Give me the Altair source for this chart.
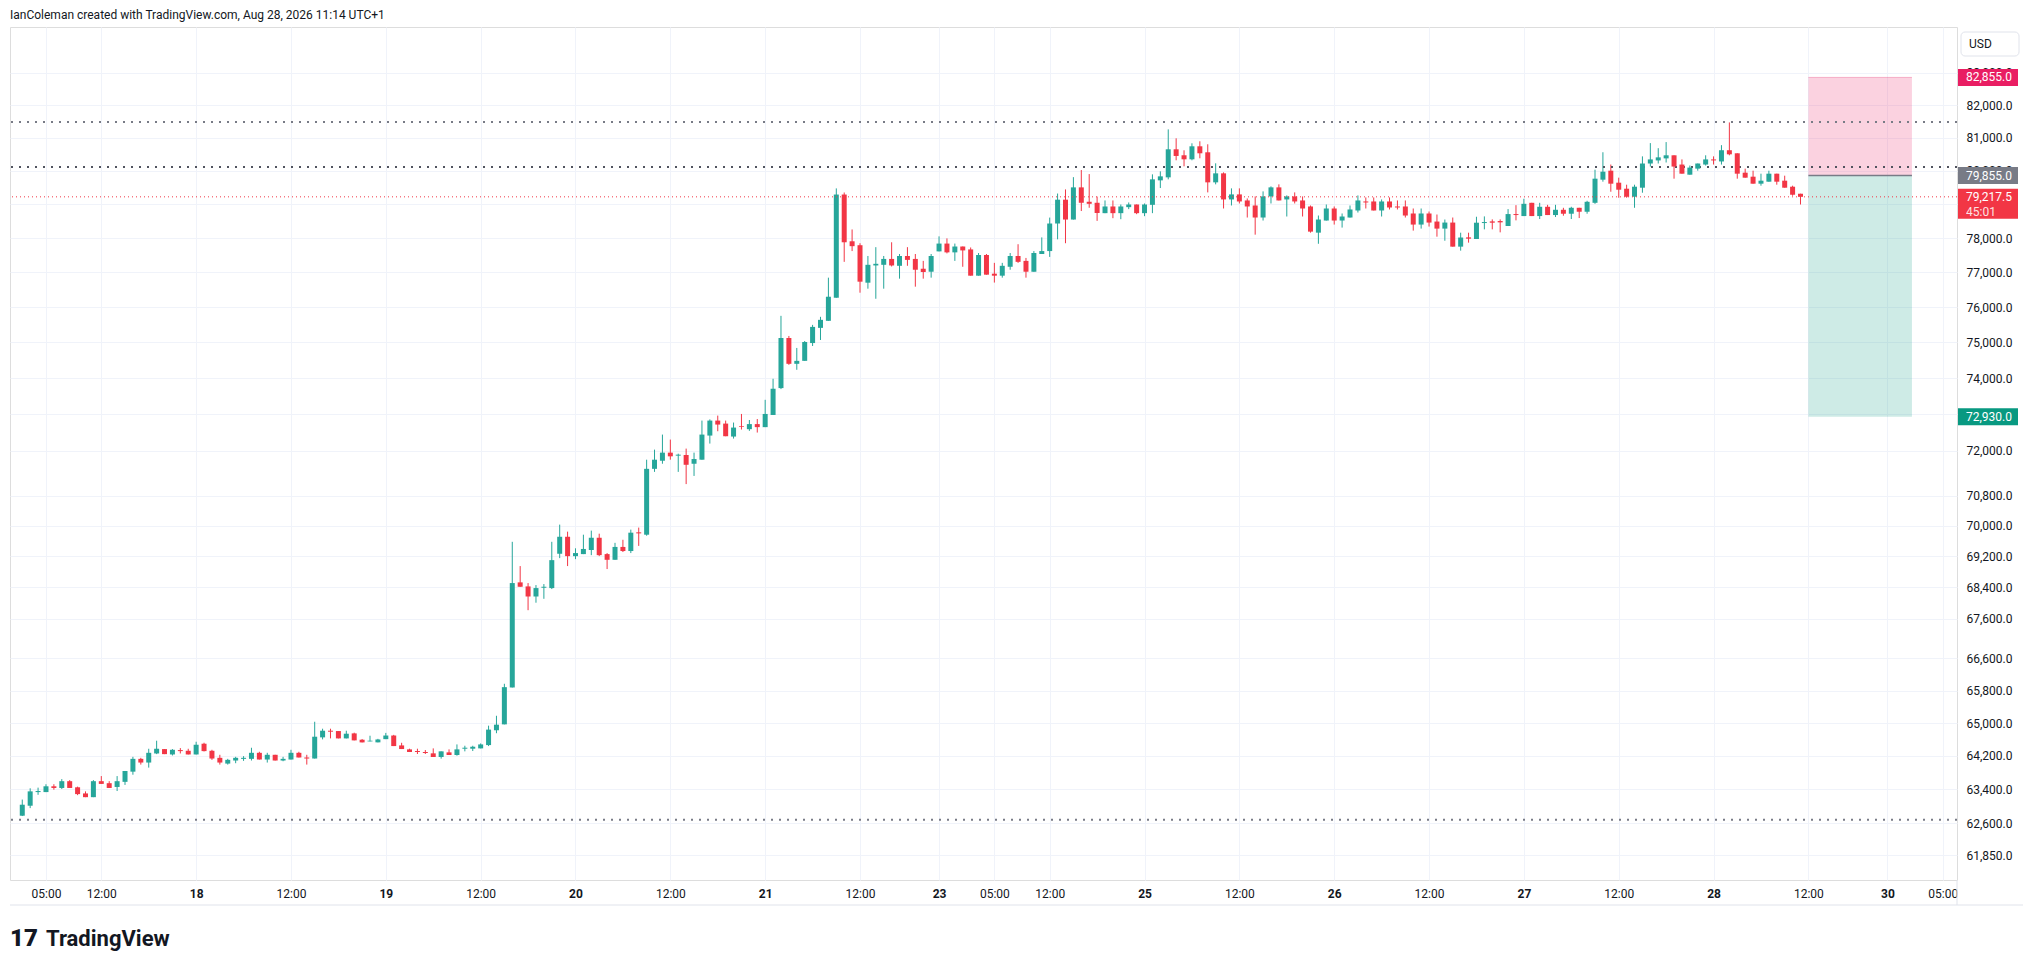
import json
import numpy as np
import pandas as pd
import altair as alt

# ---------------- data (hourly candles) ----------------
opens = [
    62775, 63011, 63335, 63335, 63473, 63433, 63595, 63449, 63303, 63214,
    63595, 63547, 63457, 63579, 63823, 64131, 64042, 64261, 64367, 64237,
    64342, 64326, 64237, 64497, 64326, 64156, 64017, 64091, 64131, 64131,
    64277, 64115, 64229, 64091, 64115, 64277, 64164, 64139, 64651, 64813,
    64805, 64626, 64748, 64594, 64553, 64530, 64608, 64696, 64456, 64360,
    64320, 64296, 64264, 64176, 64288, 64224, 64376, 64376, 64384, 64464,
    64824, 64968, 65875, 68530, 68426, 68167, 68392, 68383, 69271, 69715,
    69209, 69262, 69369, 69689, 69262, 69114, 69449, 69342, 69831, 69769,
    71518, 71736, 71955, 71873, 71891, 71655, 71764, 72418, 72827, 72745,
    72391, 72676, 72592, 72731, 72648, 72981, 73722, 75124, 74398, 74481,
    74981, 75410, 75610, 76269, 79286, 77905, 77790, 76702, 77200, 77219,
    77390, 77190, 77476, 77390, 77105, 77019, 77610, 77838, 77581, 77752,
    77667, 76904, 77505, 76962, 76904, 77162, 77476, 77333, 77019, 77533,
    77619, 78427, 79133, 78544, 79500, 79071, 79041, 78733, 78931, 78733,
    78911, 78990, 78733, 78980, 79710, 79800, 80646, 80465, 80343, 80737,
    80555, 79650, 79920, 79140, 79290, 79110, 78960, 78604, 79230, 79500,
    79140, 79230, 79110, 78931, 78158, 78515, 78871, 78515, 78604, 78812,
    79080, 79080, 78812, 79080, 78931, 78931, 78723, 78396, 78723, 78485,
    78277, 78455, 77748, 78020, 77971, 78441, 78490, 78500, 78353, 78706,
    78647, 79040, 78647, 78922, 78677, 78833, 78716, 78892, 78775, 79040,
    79730, 80000, 79640, 79460, 79220, 79490, 80216, 80309, 80371, 80464,
    80185, 79880, 80062, 80185, 80340, 80278, 80618, 80525, 79940, 79820,
    79610, 79670, 79910, 79700, 79520, 79310,
]
highs = [
    63157, 63425, 63441, 63522, 63522, 63644, 63620, 63465, 63352, 63620,
    63717, 63595, 63717, 63839, 64180, 64156, 64375, 64570, 64367, 64367,
    64391, 64375, 64545, 64521, 64350, 64229, 64131, 64180, 64196, 64399,
    64302, 64277, 64229, 64180, 64350, 64302, 64229, 65032, 64862, 64862,
    64805, 64813, 64765, 64610, 64691, 64615, 64760, 64712, 64520, 64376,
    64376, 64344, 64384, 64312, 64360, 64480, 64448, 64448, 64504, 64936,
    65178, 65967, 69583, 68951, 68512, 68460, 68486, 69583, 70034, 69849,
    69413, 69769, 69876, 69796, 69289, 69556, 69636, 69902, 69956, 71764,
    72036, 72445, 72309, 71927, 72064, 71955, 72827, 72860, 72964, 72827,
    72773, 73009, 72843, 72870, 73398, 73981, 75752, 75181, 74843, 75038,
    75495, 75724, 76847, 79469, 79347, 78252, 77848, 77476, 77733, 77476,
    77876, 77533, 77733, 77533, 77333, 77533, 78049, 77990, 77838, 77752,
    77724, 77562, 77533, 77276, 77276, 77562, 77819, 77419, 77619, 78019,
    78602, 79316, 79439, 79806, 80020, 79898, 79225, 79110, 79110, 78990,
    79050, 78990, 79020, 79890, 79980, 81252, 80980, 80616, 80828, 80889,
    80798, 80222, 79950, 79470, 79470, 79170, 79230, 79380, 79530, 79590,
    79260, 79350, 79230, 78960, 78663, 78990, 78931, 78723, 78960, 79260,
    79200, 79200, 79140, 79200, 79110, 79110, 78871, 78871, 78782, 78693,
    78545, 78604, 78157, 78157, 78627, 78637, 78549, 78549, 78853, 78970,
    79160, 79040, 79040, 78980, 78980, 78892, 78922, 78892, 79100, 80030,
    80556, 80185, 79790, 79580, 79580, 80432, 80834, 80680, 80865, 80464,
    80340, 80155, 80216, 80464, 80432, 80772, 81465, 80525, 80062, 80000,
    79910, 80000, 79910, 79850, 79550, 79310,
]
lows = [
    62767, 62954, 63270, 63335, 63392, 63408, 63433, 63262, 63214, 63214,
    63530, 63433, 63360, 63506, 63750, 63993, 63920, 64245, 64245, 64212,
    64261, 64237, 64237, 64310, 64107, 63993, 63993, 64026, 64082, 64091,
    64115, 64042, 64091, 64074, 64115, 64164, 63993, 64139, 64602, 64626,
    64626, 64626, 64578, 64529, 64553, 64530, 64608, 64440, 64368, 64296,
    64248, 64248, 64176, 64136, 64224, 64208, 64312, 64320, 64384, 64440,
    64752, 64968, 65875, 68417, 67817, 68008, 68108, 68358, 69157, 68951,
    69131, 69262, 69235, 69209, 68874, 69114, 69316, 69289, 69476, 69742,
    71436, 71655, 71764, 71436, 71109, 71327, 71764, 72200, 72536, 72400,
    72336, 72583, 72546, 72500, 72648, 72981, 73694, 74370, 74231, 74481,
    74898, 75067, 75610, 76269, 77305, 77619, 76414, 76529, 76240, 76529,
    77171, 76818, 77190, 76587, 76818, 76847, 77610, 77552, 77333, 77162,
    76904, 76904, 76933, 76705, 76847, 77076, 77276, 76847, 77019, 77533,
    77448, 77962, 77848, 78544, 78796, 78893, 78505, 78733, 78584, 78554,
    78852, 78703, 78644, 78733, 79480, 79740, 80313, 80131, 80313, 80374,
    79350, 79590, 78871, 78960, 79020, 78604, 78099, 78515, 79020, 79110,
    78634, 79020, 78634, 78158, 77832, 78515, 78396, 78307, 78604, 78752,
    78871, 78812, 78634, 78842, 78842, 78604, 78218, 78277, 78337, 78040,
    77921, 77748, 77631, 77865, 77971, 78255, 78255, 78167, 78353, 78520,
    78647, 78647, 78559, 78677, 78618, 78657, 78559, 78588, 78716, 79010,
    79670, 79370, 79190, 79190, 78892, 79340, 80124, 80216, 80247, 79760,
    79910, 79880, 80000, 80155, 80185, 80185, 80464, 79760, 79790, 79610,
    79550, 79670, 79580, 79490, 79250, 78990,
]
closes = [
    63035, 63352, 63360, 63473, 63433, 63595, 63433, 63287, 63214, 63595,
    63530, 63433, 63595, 63839, 64131, 64042, 64277, 64375, 64245, 64350,
    64318, 64237, 64472, 64318, 64139, 64042, 64107, 64156, 64156, 64277,
    64115, 64229, 64091, 64131, 64277, 64164, 64139, 64667, 64813, 64789,
    64626, 64740, 64578, 64529, 64570, 64600, 64696, 64440, 64368, 64296,
    64296, 64272, 64176, 64312, 64224, 64360, 64400, 64424, 64480, 64840,
    64960, 65883, 68512, 68417, 68167, 68383, 68417, 69105, 69715, 69209,
    69289, 69396, 69689, 69235, 69114, 69449, 69342, 69822, 69804, 71518,
    71764, 71955, 71855, 71900, 71627, 71782, 72445, 72827, 72718, 72400,
    72636, 72657, 72731, 72648, 73009, 73704, 75124, 74398, 74481, 75010,
    75438, 75638, 76298, 79286, 77876, 77762, 76731, 77219, 77248, 77390,
    77200, 77476, 77362, 77076, 77010, 77476, 77838, 77581, 77752, 77638,
    76904, 77505, 76933, 76904, 77190, 77476, 77305, 77019, 77562, 77619,
    78427, 79133, 78544, 79500, 79041, 79010, 78738, 78931, 78733, 78931,
    78990, 78733, 78990, 79740, 79830, 80646, 80444, 80343, 80737, 80525,
    79650, 79920, 79140, 79290, 79080, 78931, 78604, 79230, 79500, 79110,
    79230, 79080, 78871, 78188, 78545, 78871, 78515, 78634, 78842, 79110,
    79050, 78812, 79080, 78901, 78901, 78663, 78396, 78723, 78455, 78277,
    78455, 77748, 78015, 77981, 78451, 78470, 78451, 78461, 78706, 78677,
    79010, 78647, 78922, 78677, 78833, 78716, 78892, 78775, 79070, 79760,
    79970, 79610, 79430, 79220, 79520, 80216, 80340, 80402, 80464, 80124,
    79910, 80093, 80216, 80340, 80309, 80618, 80494, 79910, 79790, 79610,
    79700, 79910, 79670, 79490, 79280, 79217.5,
]

# time-axis ticks (bar index -> label)
tick_idx = [3, 10, 22, 34, 46, 58, 70, 82, 94, 106, 116, 123, 130,
            142, 154, 166, 178, 190, 202, 214, 226, 236, 243]
tick_txt = ["05:00", "12:00", "18", "12:00", "19", "12:00", "20", "12:00",
            "21", "12:00", "23", "05:00", "12:00", "25", "12:00", "26",
            "12:00", "27", "12:00", "28", "12:00", "30", "05:00"]
day_idx = [22, 46, 70, 94, 116, 142, 166, 190, 214, 236]

# price grid lines; the ones fully hidden behind price tags carry no label
price_ticks = [83000, 82000, 81000, 80000, 79000, 78000, 77000, 76000, 75000,
               74000, 73000, 72000, 70800, 70000, 69200, 68400, 67600, 66600,
               65800, 65000, 64200, 63400, 62600, 61850]
hidden_ticks = [79000, 73000]

level_light = [81475, 62680]
level_dark = [80110]

pos_left, pos_right = 226, 239.1
stop_price = 82855.0
entry_price = 79855.0
target_price = 72930.0
last_price = closes[-1]
countdown = "45:01"

header_text = "IanColeman created with TradingView.com, Aug 28, 2026 11:14 UTC+1"
brand_text = "TradingView"
logo_text = "17"
currency = "USD"

# ---------------- styling ----------------
W, H = 1947, 853
X_DOMAIN = [-0.92, 244.17]
Y_DOMAIN = [61276, 84440]
UP, DOWN = "#26a69a", "#f23645"
FONT = "Roboto"
TXT = "#131722"
GRID = "#f0f3fa"
BORDER = "#e0e3eb"

df = pd.DataFrame({"i": list(range(len(opens))), "open": opens, "high": highs,
                   "low": lows, "close": closes})
df["dir"] = np.where(df["close"] >= df["open"], "up", "down")

xs = alt.Scale(domain=X_DOMAIN, nice=False, zero=False)
ys = alt.Scale(type="log", domain=Y_DOMAIN, nice=False, zero=False)
col = alt.Color("dir:N", scale=alt.Scale(domain=["up", "down"], range=[UP, DOWN]), legend=None)

label_expr = f"{json.dumps(tick_txt)}[indexof({json.dumps(tick_idx)}, datum.value)]"
x_axis = alt.Axis(
    values=tick_idx, labelExpr=label_expr, title=None, grid=True, gridColor=GRID,
    ticks=False, domain=False, labelPadding=8, labelFont=FONT, labelFontSize=12,
    labelColor=TXT, labelAngle=0, labelOverlap=False, labelFlush=False,
    labelFontWeight={"condition": {"test": f"indexof({json.dumps(day_idx)}, datum.value) >= 0",
                                   "value": "bold"}, "value": "normal"},
)
y_axis = alt.Axis(
    orient="right", values=price_ticks, format=",.1f", title=None, grid=True,
    gridColor=GRID, ticks=False, domain=False, labelPadding=9, labelAlign="left",
    labelBaseline="middle", labelFont=FONT, labelFontSize=12, labelColor=TXT,
    labelOverlap=False, labelFlush=False,
    labelExpr=f"indexof({json.dumps(hidden_ticks)}, datum.value) >= 0 ? '' : datum.label",
)


def X(field):
    return alt.X(field, scale=xs, axis=x_axis)


def Y(field):
    return alt.Y(field, scale=ys, axis=y_axis)


wicks = alt.Chart(df).mark_rule(strokeWidth=1).encode(
    x=X("i:Q"), y=Y("low:Q"), y2="high:Q", color=col)
bodies = alt.Chart(df).mark_bar(width=5).encode(
    x=X("i:Q"), y=Y("open:Q"), y2="close:Q", color=col)

# horizontal dotted levels
lv_light = alt.Chart(pd.DataFrame({"p": level_light})).mark_rule(
    strokeWidth=2, strokeDash=[2, 6], color="#787b86").encode(y=Y("p:Q"))
lv_dark = alt.Chart(pd.DataFrame({"p": level_dark})).mark_rule(
    strokeWidth=2, strokeDash=[2, 6], color="#50535e").encode(y=Y("p:Q"))


# position tool
def box(y1, y2, fill):
    d = pd.DataFrame({"a": [pos_left], "b": [pos_right], "y1": [y1], "y2": [y2]})
    return alt.Chart(d).mark_rect(color=fill, opacity=1).encode(
        x=X("a:Q"), x2="b:Q", y=Y("y1:Q"), y2="y2:Q")


stop_box = box(entry_price, stop_price, "rgba(233,30,99,0.2)")
target_box = box(target_price, entry_price, "rgba(8,153,129,0.2)")


def hline(price, color, width):
    d = pd.DataFrame({"a": [pos_left], "b": [pos_right], "p": [price]})
    return alt.Chart(d).mark_rule(color=color, strokeWidth=width).encode(
        x=X("a:Q"), x2="b:Q", y=Y("p:Q"))


entry_line = hline(entry_price, "#787b86", 1.5)
stop_edge = hline(stop_price, "rgba(233,30,99,0.3)", 1)

last_line = alt.Chart(pd.DataFrame({"p": [last_price]})).mark_rule(
    strokeWidth=1, strokeDash=[1, 3], color=DOWN).encode(y=Y("p:Q"))


# price tags on the scale
def tag(price, bg, height=17, yoff=0):
    d = pd.DataFrame({"p": [price], "label": [f"{price:,.1f}"]})
    base = alt.Chart(d).encode(y=Y("p:Q"))
    rect = base.mark_tick(orient="horizontal", size=60, thickness=height,
                          color=bg, opacity=1, yOffset=yoff).encode(x=alt.value(W + 31))
    txt = base.mark_text(align="left", baseline="middle", font=FONT, fontSize=12,
                         color="white").encode(x=alt.value(W + 9), text="label:N")
    return [rect, txt]


tags = []
tags += tag(stop_price, "#e91e63")
tags += tag(entry_price, "#787b86")
tags += tag(target_price, "#089981")
tags += tag(last_price, DOWN, height=30, yoff=7)
cd = alt.Chart(pd.DataFrame({"p": [last_price], "t": [countdown]})).mark_text(
    align="left", baseline="middle", font=FONT, fontSize=12, color="white",
    opacity=0.85, yOffset=15).encode(y=Y("p:Q"), x=alt.value(W + 9), text="t:N")
tags.append(cd)

one = pd.DataFrame({"t": [header_text], "b": [brand_text], "l": [logo_text], "c": [currency]})

header = alt.Chart(one).mark_text(align="left", baseline="middle", font=FONT,
                                  fontSize=12, color=TXT).encode(
    x=alt.value(0), y=alt.value(-12), text="t:N")
brand = alt.Chart(one).mark_text(align="left", baseline="middle", font=FONT,
                                 fontSize=22, fontWeight="bold", color=TXT).encode(
    x=alt.value(36), y=alt.value(912), text="b:N")
logo = alt.Chart(one).mark_text(align="left", baseline="middle", font=FONT,
                                fontSize=24, fontWeight=900, color=TXT).encode(
    x=alt.value(0), y=alt.value(912), text="l:N")

usd_box = alt.Chart(one).mark_rect(fill="white", stroke=BORDER, strokeWidth=1,
                                   cornerRadius=4).encode(
    x=alt.value(W + 4), x2=alt.value(W + 62), y=alt.value(5), y2=alt.value(29))
usd_txt = alt.Chart(one).mark_text(align="left", baseline="middle", font=FONT,
                                   fontSize=12, color=TXT).encode(
    x=alt.value(W + 12), y=alt.value(17), text="c:N")

# cover for the time strip under the price scale + strip borders
cover = alt.Chart(one).mark_rect(fill="white").encode(
    x=alt.value(W + 0.5), x2=alt.value(W + 66), y=alt.value(H + 0.5), y2=alt.value(H + 25))
strip_v = alt.Chart(one).mark_rule(color=BORDER).encode(
    x=alt.value(W), y=alt.value(H), y2=alt.value(H + 25))
strip_b = alt.Chart(one).mark_rule(color=BORDER).encode(
    x=alt.value(0), x2=alt.value(W + 66), y=alt.value(H + 25))

chart = alt.layer(
    wicks, stop_box, target_box, lv_light, lv_dark, entry_line, stop_edge,
    bodies, last_line, *tags, header, brand, logo, usd_box, usd_txt,
    cover, strip_v, strip_b,
).properties(
    width=W, height=H,
    padding={"left": 2, "top": 19, "right": 66, "bottom": 72},
    autosize=alt.AutoSizeParams(type="none"),
).configure_view(stroke=BORDER, strokeWidth=1).configure(background="white")

chart.save("out.html", embed_options={"renderer": "svg", "actions": False})
